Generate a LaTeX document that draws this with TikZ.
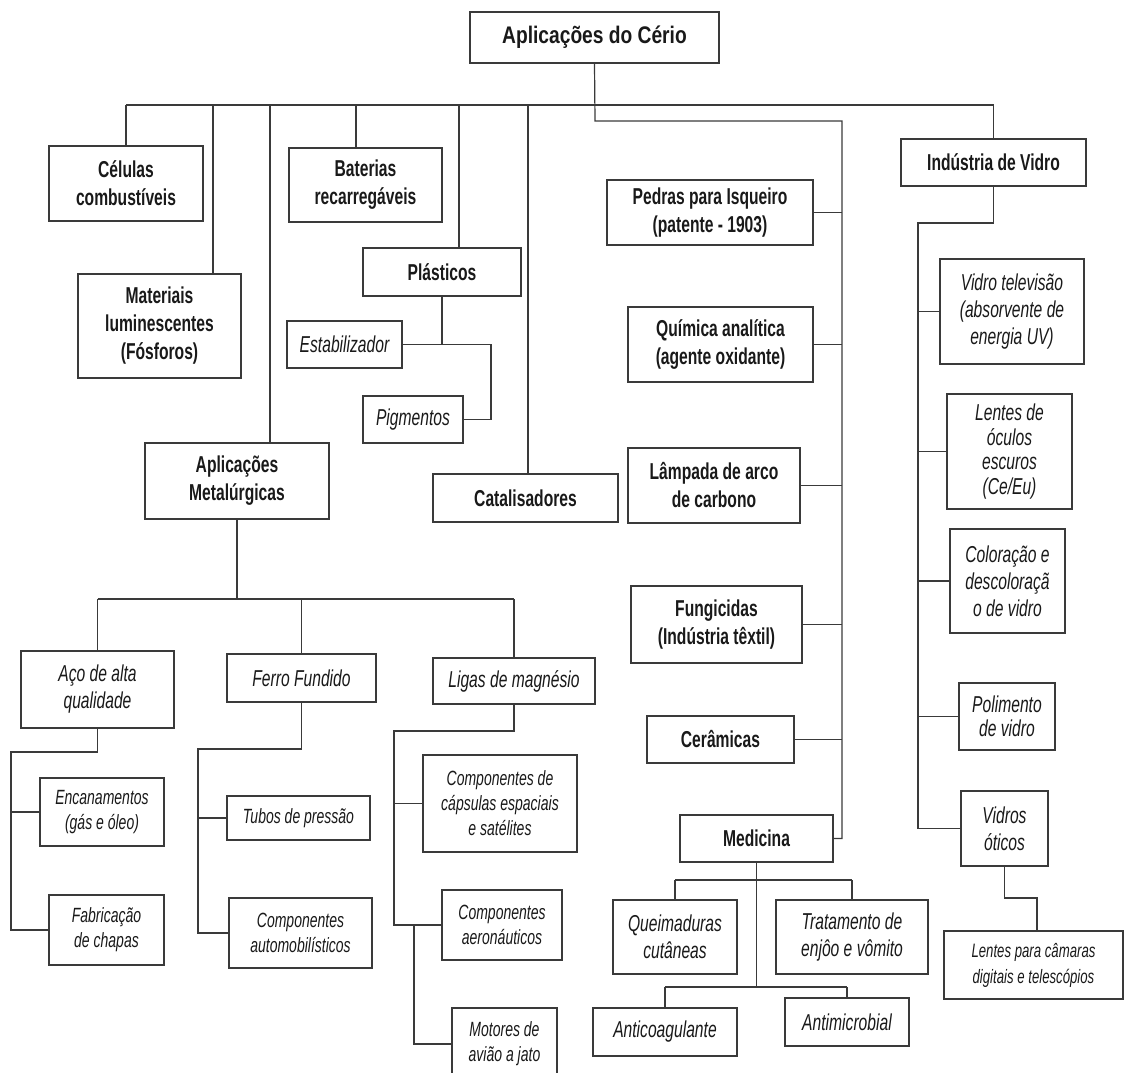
\documentclass[tikz,border=0pt]{standalone}
\usepackage{fontspec}
\setmainfont{Liberation Sans}[FakeStretch=0.68]
\newfontfamily\titlefont{Liberation Sans}[FakeStretch=0.8]
\definecolor{ln}{HTML}{3A3A3A}
\tikzset{
 base/.style={draw=ln, line width=1.4pt, inner sep=0pt, align=center, text=black!90},
 bbox/.style={base, font=\fontsize{23}{28}\selectfont\bfseries},
 tbox/.style={base, font=\titlefont\fontsize{24}{30}\selectfont\bfseries},
 ibox/.style={base, font=\fontsize{23}{27}\selectfont\itshape},
 iboxt/.style={base, font=\fontsize{23}{24.5}\selectfont\itshape},
 sbox/.style={base, font=\fontsize{20.6}{25}\selectfont\itshape},
 xbox/.style={base, font=\fontsize{19.4}{26}\selectfont\itshape},
 wh/.style 2 args={minimum width=#1pt, minimum height=#2pt},
 conn/.style={draw=ln, line width=1.2pt},
}
\begin{document}
\begin{tikzpicture}[x=1pt,y=-1pt]
\useasboundingbox (0,0) rectangle (1127,1072);
% top
\node[tbox, wh={249}{51}] (title) at (594.5,37.5) {Aplicações do Cério};
\node[bbox, wh={154}{75}] (cel) at (126,183.5) {Células\\combustíveis};
\node[bbox, wh={153}{74}] (bat) at (365.5,185) {Baterias\\recarregáveis};
\node[bbox, wh={163}{104}] (mat) at (159.5,326) {Materiais\\luminescentes\\(Fósforos)};
\node[bbox, wh={158}{48}] (pla) at (442,272) {Plásticos};
\node[ibox, wh={115}{47}] (est) at (344.5,344.5) {Estabilizador};
\node[ibox, wh={100}{47}] (pig) at (413,419.5) {Pigmentos};
\node[bbox, wh={184}{76}] (met) at (237,481) {Aplicações\\Metalúrgicas};
\node[bbox, wh={185}{48}] (cat) at (525.5,498) {Catalisadores};
% middle column
\node[bbox, wh={206}{65}] (ped) at (710,212.5) {Pedras para Isqueiro\\(patente - 1903)};
\node[bbox, wh={185}{75}] (qui) at (720.5,344.5) {Química analítica\\(agente oxidante)};
\node[bbox, wh={172}{75}] (lam) at (714,485.5) {Lâmpada de arco\\de carbono};
\node[bbox, wh={171}{77}] (fun) at (716.5,624.5) {Fungicidas\\(Indústria têxtil)};
\node[bbox, wh={147}{47}] (cer) at (720.5,739.5) {Cerâmicas};
\node[bbox, wh={153}{47}] (med) at (756.5,838.5) {Medicina};
\node[ibox, wh={124}{74}] (que) at (675,937) {Queimaduras\\cutâneas};
\node[ibox, wh={152}{74}] (tra) at (852,937) {Tratamento de\\enjôo e vômito};
\node[ibox, wh={144}{48}] (ant) at (665,1032) {Anticoagulante};
\node[ibox, wh={124}{48}] (amic) at (847,1022) {Antimicrobial};
% glass
\node[bbox, wh={185}{47}] (vid) at (993.5,162.5) {Indústria de Vidro};
\node[ibox, wh={144}{105}] (vtv) at (1012,311.5) {Vidro televisão\\(absorvente de\\energia UV)};
\node[iboxt, wh={125}{115}] (loc) at (1009.5,451.5) {Lentes de\\óculos\\escuros\\(Ce/Eu)};
\node[ibox, wh={115}{104}] (col) at (1007.5,581) {Coloração e\\descoloraçã\\o de vidro};
\node[iboxt, wh={96}{67}] (pol) at (1007,716.5) {Polimento\\de vidro};
\node[ibox, wh={87}{75}] (vot) at (1004.5,828.5) {Vidros\\óticos};
\node[xbox, wh={179}{68}] (lcam) at (1033.5,965) {Lentes para câmaras\\digitais e telescópios};
% metallurgy
\node[ibox, wh={153}{77}] (aco) at (97.5,689.5) {Aço de alta\\qualidade};
\node[ibox, wh={149}{48}] (fer) at (301.5,678) {Ferro Fundido};
\node[ibox, wh={162}{46}] (lig) at (514,681) {Ligas de magnésio};
\node[sbox, wh={124}{68}] (enc) at (102,812) {Encanamentos\\(gás e óleo)};
\node[sbox, wh={115}{70}] (fab) at (106.5,930) {Fabricação\\de chapas};
\node[sbox, wh={143}{44}] (tub) at (298.5,818) {Tubos de pressão};
\node[sbox, wh={143}{70}] (cau) at (300.5,933) {Componentes\\automobilísticos};
\node[sbox, wh={154}{97}] (ccap) at (500,803.5) {Componentes de\\cápsulas espaciais\\e satélites};
\node[sbox, wh={120}{70}] (caer) at (502,925) {Componentes\\aeronáuticos};
\node[sbox, wh={105}{72}] (mot) at (504.5,1044) {Motores de\\avião a jato};
% ---- connectors
\coordinate (t2) at (595,121);
\coordinate (tr) at (842,121);
\coordinate (d1) at (126,105);
\coordinate (d2) at (213,105);
\coordinate (d3) at (270,105);
\coordinate (d4) at (356,105);
\coordinate (d5) at (459,105);
\coordinate (d6) at (528,105);
\coordinate (d7) at (993.5,105);
\draw[conn] (title.south) -- (t2) -- (tr) -- (tr |- med.east) -- (med.east);
\draw[conn] (d1) -- (d7);
\draw[conn] (d1) -- (cel.north);
\draw[conn] (d2) -- (d2 |- mat.north);
\draw[conn] (d3) -- (d3 |- met.north);
\draw[conn] (d4) -- (d4 |- bat.north);
\draw[conn] (d5) -- (d5 |- pla.north);
\draw[conn] (d6) -- (d6 |- cat.north);
\draw[conn] (d7) -- (vid.north);
\foreach \n in {ped,qui,lam,fun,cer} \draw[conn] (\n.east) -- (\n.east -| tr);
% plastics
\coordinate (pk) at (491,0);
\draw[conn] (pla.south) -- (pla.south |- est.east);
\draw[conn] (est.east) -- (est.east -| pk) |- (pig.east);
% metallurgy
\coordinate (mb) at (0,599);
\draw[conn] (met.south) -- (met.south |- mb);
\draw[conn] (aco.north |- mb) -- (lig.north |- mb);
\foreach \n in {aco,fer,lig} \draw[conn] (\n.north |- mb) -- (\n.north);
\coordinate (ax) at (11,752);
\draw[conn] (aco.south) |- (ax) -- (ax |- fab.west) -- (fab.west);
\draw[conn] (ax |- enc.west) -- (enc.west);
\coordinate (fx) at (198,749);
\draw[conn] (fer.south) |- (fx) -- (fx |- cau.west) -- (cau.west);
\draw[conn] (fx |- tub.west) -- (tub.west);
\coordinate (lx) at (394,731);
\draw[conn] (lig.south) |- (lx) -- (lx |- caer.west) -- (caer.west);
\draw[conn] (lx |- ccap.west) -- (ccap.west);
\coordinate (lm) at (414,0);
\draw[conn] (lm |- caer.west) |- (mot.west);
% glass
\coordinate (vx) at (918,223);
\draw[conn] (vid.south) |- (vx) -- (vx |- vot.west) -- (vot.west);
\foreach \n in {vtv,loc,col,pol} \draw[conn] (vx |- \n.west) -- (\n.west);
\coordinate (lc) at (1037,898);
\draw[conn] (vot.south) |- (lc) -- (lc |- lcam.north);
% medicine
\coordinate (mb1) at (0,880);
\coordinate (mb2) at (0,987);
\draw[conn] (med.south) -- (med.south |- mb2);
\draw[conn] (que.north |- mb1) -- (tra.north |- mb1);
\draw[conn] (que.north |- mb1) -- (que.north);
\draw[conn] (tra.north |- mb1) -- (tra.north);
\draw[conn] (ant.north |- mb2) -- (amic.north |- mb2);
\draw[conn] (ant.north |- mb2) -- (ant.north);
\draw[conn] (amic.north |- mb2) -- (amic.north);
\end{tikzpicture}
\end{document}
